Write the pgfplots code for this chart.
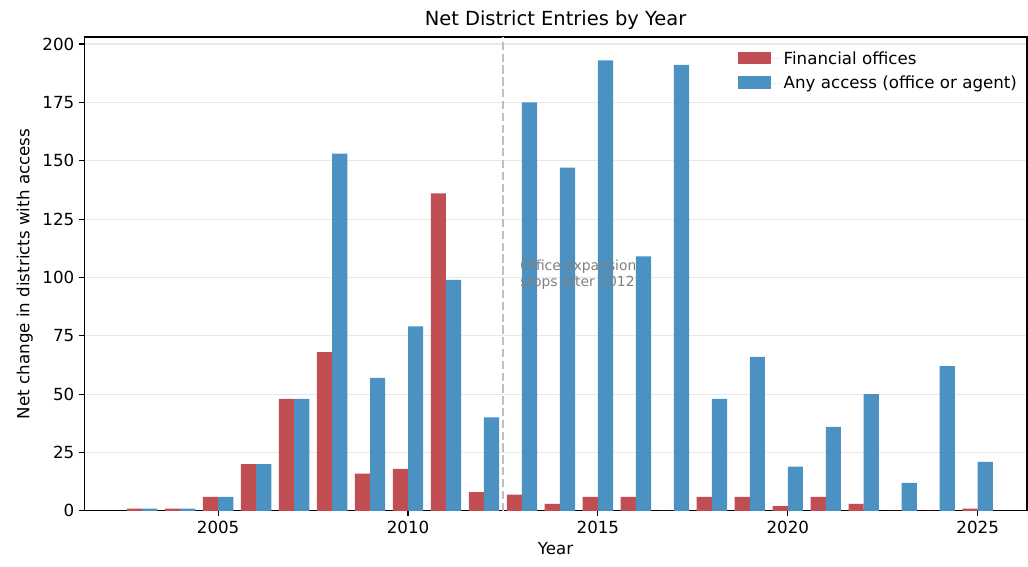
\documentclass[border=0pt]{standalone}
\usepackage{fontspec}
\setmainfont{DejaVu Sans}
\usepackage{pgfplots}
\pgfplotsset{compat=1.18}
\definecolor{cred}{RGB}{193,78,82}
\definecolor{cblue}{RGB}{75,146,195}
\definecolor{gridc}{RGB}{232,232,232}
\begin{document}
\begin{tikzpicture}
\path[use as bounding box] (-60.5pt,-40.3pt) rectangle (679.2pt,367.6pt);
\begin{axis}[
  scale only axis, width=678.5pt, height=341pt,
  xmin=2001.47, xmax=2026.3, ymin=0, ymax=203,
  xtick={2005,2010,2015,2020,2025},
  ytick={0,25,50,75,100,125,150,175,200},
  /pgf/number format/1000 sep={},
  /pgf/number format/assume math mode=true,
  tick label style={font=\fontsize{12}{14}\selectfont},
  tick align=outside, major tick length=3.5pt,
  xtick pos=bottom, ytick pos=left,
  axis line style={line width=0.8pt},
  tick style={line width=0.8pt, black},
  ymajorgrids, grid style={gridc, line width=0.8pt},
  xlabel={Year}, ylabel={Net change in districts with access},
  label style={font=\fontsize{12}{14}\selectfont},
  title={Net District Entries by Year},
  title style={font=\fontsize{14}{16}\selectfont, yshift=-4.5pt},
  legend style={draw=none, fill=none, at={(0.997,0.982)}, anchor=north east,
    font=\fontsize{12}{13.5}\selectfont, row sep=3pt},
  legend cell align=left,
  legend image code/.code={\fill[#1] (0pt,-4pt) rectangle (24pt,5pt); \path (24pt,0) -- (31pt,0);},
]
\addplot[ybar, bar width=0.4, bar shift=-0.2, fill=cred, draw=none] coordinates {
(2003,1) (2004,1) (2005,6) (2006,20) (2007,48) (2008,68) (2009,16) (2010,18)
(2011,136) (2012,8) (2013,7) (2014,3) (2015,6) (2016,6) (2017,0) (2018,6)
(2019,6) (2020,2) (2021,6) (2022,3) (2023,0) (2024,0) (2025,1)};
\addlegendentry{Financial offices}
\addplot[ybar, bar width=0.4, bar shift=0.2, fill=cblue, draw=none] coordinates {
(2003,1) (2004,1) (2005,6) (2006,20) (2007,48) (2008,153) (2009,57) (2010,79)
(2011,99) (2012,40) (2013,175) (2014,147) (2015,193) (2016,109) (2017,191) (2018,48)
(2019,66) (2020,19) (2021,36) (2022,50) (2023,12) (2024,62) (2025,21)};
\addlegendentry{Any access (office or agent)}
\draw[gray!50, line width=1.4pt, dash pattern=on 6pt off 2.5pt] (axis cs:2012.5,0) -- (axis cs:2012.5,203);
\node[anchor=west, align=left, text=gray, font=\fontsize{10}{11.5}\selectfont, inner sep=0pt] at (axis cs:2012.95,101) {Office expansion\\stops after 2012};
\end{axis}
\end{tikzpicture}
\end{document}
